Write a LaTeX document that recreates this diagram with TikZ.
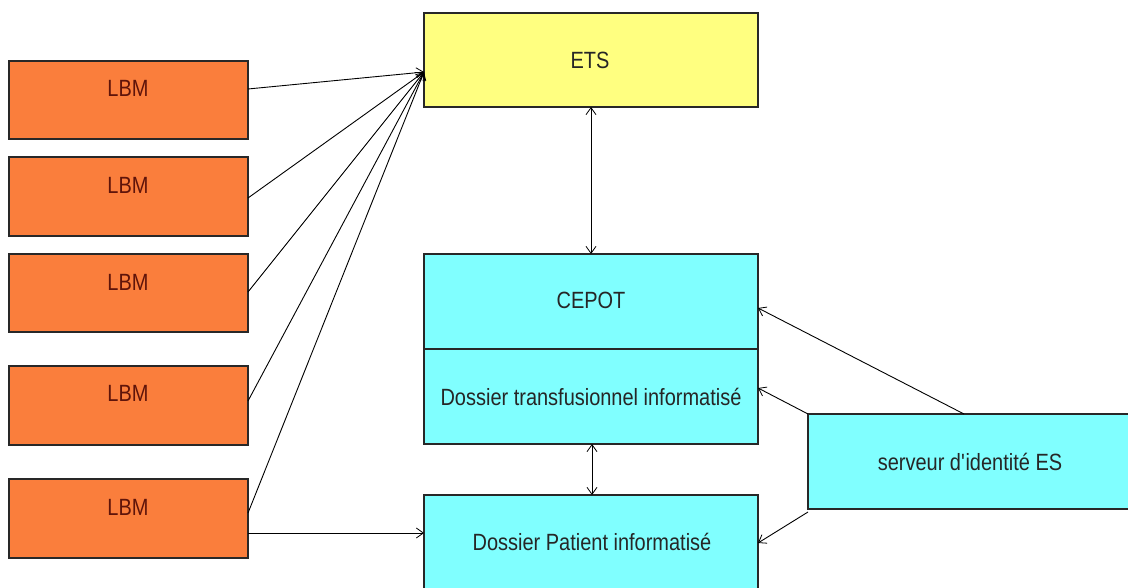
\documentclass[tikz,border=0pt]{standalone}
\usepackage{fontspec}
\setmainfont{Liberation Sans}[FakeStretch=0.85]
\usetikzlibrary{arrows.meta,calc}
\definecolor{lbm}{RGB}{250,126,60}
\definecolor{etsc}{RGB}{255,255,128}
\definecolor{cy}{RGB}{128,255,255}
\definecolor{lbmtxt}{RGB}{95,20,10}
\definecolor{edge}{RGB}{40,40,40}
\newcommand{\sq}{\XeTeXglyph\the\XeTeXcharglyph"27\relax}
\begin{document}
\begin{tikzpicture}[x=1pt,y=-1pt,
  box/.style={draw=edge,line width=1.3pt,anchor=north west,inner sep=0pt,outer sep=0pt},
  lbmbox/.style={box,fill=lbm,minimum width=239pt},
  cybox/.style={box,fill=cy,minimum width=334pt},
  txt/.style={font=\fontsize{23.5}{26}\selectfont,inner sep=0pt,text=black!85},
  ltxt/.style={txt,text=lbmtxt},
  arr/.style={line width=0.9pt,draw=black,-{Straight Barb[length=7pt,width=10pt,line width=0.8pt]}},
  darr/.style={arr,{Straight Barb[length=7pt,width=10pt,line width=0.8pt]}-{Straight Barb[length=7pt,width=10pt,line width=0.8pt]}}]
\fill[white] (0,0) rectangle (1128,588);
\useasboundingbox (0,0) rectangle (1128,588);
\clip (0,0) rectangle (1128,588);

% LBM boxes
\node[lbmbox,minimum height=78pt] (l1) at (9,61) {};
\node[lbmbox,minimum height=79pt] (l2) at (9,157) {};
\node[lbmbox,minimum height=78pt] (l3) at (9,254) {};
\node[lbmbox,minimum height=79pt] (l4) at (9,366) {};
\node[lbmbox,minimum height=79pt] (l5) at (9,479) {};
\node[ltxt] (t1) at (128,88) {LBM};
\node[ltxt] (t2) at (128,185) {LBM};
\node[ltxt] (t3) at (128,282) {LBM};
\node[ltxt] (t4) at (128,393) {LBM};
\node[ltxt] (t5) at (128,507) {LBM};

% ETS
\node[box,fill=etsc,minimum width=334pt,minimum height=94pt] (ets) at (424,13) {};
\node[txt] (tets) at (590,60) {ETS};

% CEPOT / dossier transfusionnel
\node[cybox,minimum height=95pt] (cepot) at (424,254) {};
\node[cybox,minimum height=95pt] (dt) at (424,349) {};
\draw[edge,line width=2.6pt] (cepot.south west) -- (cepot.south east);
\node[txt] (tcepot) at (591,300) {CEPOT};
\node[txt] (tdt) at (591,397) {Dossier transfusionnel informatisé};

% Dossier patient
\node[cybox,minimum height=110pt] (dp) at (424,495) {};
\node[txt] (tdp) at (592,542) {Dossier Patient informatisé};

% serveur
\node[cybox,minimum width=330pt,minimum height=95pt] (srv) at (808,414) {};
\node[txt] (tsrv) at (970,462) {serveur d\sq identité ES};

% connectors
\coordinate (etsin) at ([yshift=-59pt]ets.north west);
\draw[arr] ([yshift=-28pt]l1.north east) -- (etsin);
\draw[arr] ([yshift=-41pt]l2.north east) -- (etsin);
\draw[arr] ([yshift=-38pt]l3.north east) -- (etsin);
\draw[arr] ([yshift=-35pt]l4.north east) -- (etsin);
\draw[arr] ([yshift=-34pt]l5.north east) -- (etsin);
\draw[arr] ([yshift=-54pt]l5.north east) -- ([yshift=-38pt]dp.north west);

\draw[darr] (ets.south -| 591,0) -- (cepot.north -| 591,0);
\draw[darr] (dt.south -| 592,0) -- (dp.north -| 592,0);

\draw[arr] (srv.north -| 964,0) -- ([yshift=-54pt]cepot.north east);
\draw[arr] (srv.north west) -- ([yshift=-39pt]dt.north east);
\draw[arr] ([yshift=-98pt]srv.north west) -- ([yshift=-48pt]dp.north east);
\end{tikzpicture}
\end{document}
